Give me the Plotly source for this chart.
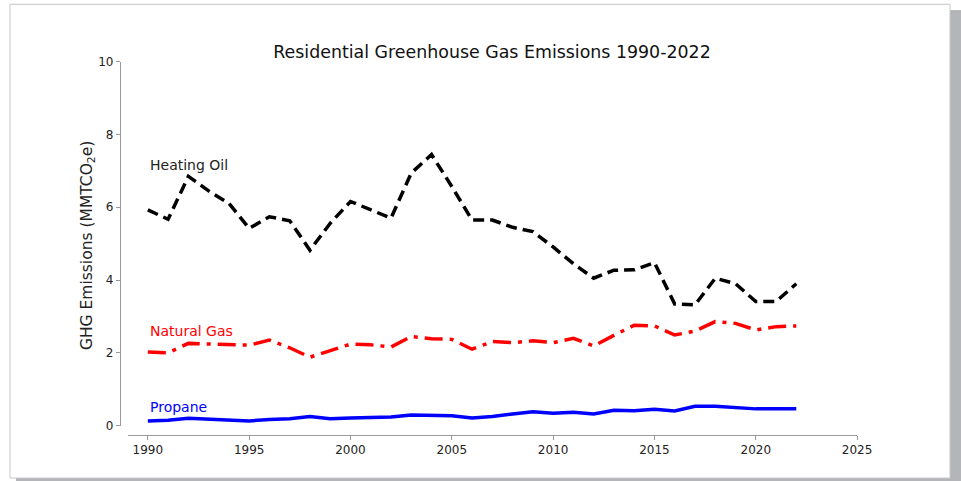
import plotly.graph_objects as go

# Annual residential emissions, MMTCO2e
years = list(range(1990, 2023))

heating_oil = [5.93, 5.67, 6.85, 6.45, 6.11, 5.42, 5.74, 5.63, 4.82, 5.56,
               6.16, 5.93, 5.70, 6.94, 7.45, 6.57, 5.65, 5.65, 5.45, 5.33,
               4.91, 4.45, 4.05, 4.27, 4.28, 4.48, 3.34, 3.32, 4.05, 3.90,
               3.41, 3.41, 3.90]

natural_gas = [2.02, 2.00, 2.26, 2.25, 2.24, 2.21, 2.35, 2.14, 1.88, 2.07,
               2.24, 2.22, 2.16, 2.45, 2.39, 2.37, 2.10, 2.31, 2.28, 2.33,
               2.28, 2.40, 2.19, 2.48, 2.76, 2.74, 2.49, 2.60, 2.86, 2.81,
               2.63, 2.72, 2.74]

propane = [0.13, 0.15, 0.20, 0.18, 0.15, 0.13, 0.17, 0.19, 0.25, 0.19,
           0.21, 0.23, 0.24, 0.29, 0.29, 0.27, 0.21, 0.25, 0.32, 0.38,
           0.34, 0.37, 0.32, 0.42, 0.41, 0.45, 0.40, 0.53, 0.53, 0.50,
           0.46, 0.46, 0.46]

x_ticks = [1990, 1995, 2000, 2005, 2010, 2015, 2020, 2025]
y_ticks = [0, 2, 4, 6, 8, 10]

series = [
    ("Heating Oil", heating_oil, "#000000", "11px,6px", 7.15),
    ("Natural Gas", natural_gas, "#ff0000", "18px,7px,4px,7px", 2.6),
    ("Propane", propane, "#0000ff", "solid", 0.5),
]

W, H = 961, 481
FONT = "DejaVu Sans"
SHADOW = "#b3b5b8"

# Pixel -> paper-fraction helpers (plot area spans 947 x 463 px, top at 8.7 px)
PW, PTOP, PBOT = 947.0, 8.7, 472.0


def px(x):
    return x / PW


def py(y):
    return (PBOT - y) / (PBOT - PTOP)


def rect(x0, x1, y0, y1, fill, layer="below", line=None):
    fig.add_shape(type="rect", xref="paper", yref="paper", layer=layer,
                  x0=px(x0), x1=px(x1), y0=py(y1), y1=py(y0),
                  fillcolor=fill, line=line or dict(width=0))


fig = go.Figure()
for name, vals, color, dash, label_y in series:
    fig.add_trace(go.Scatter(
        x=years, y=vals, mode="lines", name=name,
        line=dict(color=color, width=3.5, dash=dash),
        showlegend=False,
    ))
    fig.add_annotation(
        x=years[0], y=label_y, xref="x", yref="y",
        text=name, showarrow=False, xanchor="left", yanchor="middle",
        font=dict(family=FONT, size=14, color=color if color != "#000000" else "#222222"),
    )

# Y-axis label
fig.add_annotation(
    x=px(88), y=py(245), xref="paper", yref="paper",
    text="GHG Emissions (MMTCO<sub>2</sub>e)", textangle=-90,
    showarrow=False, xanchor="center", yanchor="middle",
    font=dict(family=FONT, size=15.5, color="#222222"),
)

# White page edges around the card
rect(-30, 10, -30, 520, "#ffffff")      # left strip
rect(-30, 1000, -30, 6, "#ffffff")      # top strip
rect(-30, 16, 476, 520, "#ffffff")      # below the card, left of the shadow
rect(951, 1000, -30, 12, "#ffffff")     # right of the card, above the shadow

# Card
rect(10, 951, 6, 476, "#ffffff", line=dict(color="#c8c8c8", width=1))

# Drop shadow bands along the right and bottom edges of the card
rect(952, 1000, 12, 520, SHADOW, layer="above")
rect(16, 1000, 477, 520, SHADOW, layer="above")

axis_common = dict(
    showgrid=False, zeroline=False, showline=True,
    linecolor="#9a9a9a", linewidth=1,
    ticks="outside", ticklen=4, tickwidth=1, tickcolor="#9a9a9a",
    tickfont=dict(family=FONT, size=12, color="#222222"),
)

fig.update_layout(
    width=W, height=H,
    margin=dict(l=0, r=0, t=0, b=0),
    paper_bgcolor=SHADOW,
    plot_bgcolor="rgba(0,0,0,0)",
    title=dict(
        text="Residential Greenhouse Gas Emissions 1990-2022",
        x=492 / W, y=1 - 52 / H, xanchor="center", yanchor="middle",
        font=dict(family=FONT, size=17.4, color="#111111"),
    ),
    xaxis=dict(
        range=[1989.0, 2025], domain=[px(127.7), px(858)],
        anchor="free", position=py(433),
        tickmode="array", tickvals=x_ticks,
        **axis_common,
    ),
    yaxis=dict(
        range=[0, 10], domain=[py(424), py(63)],
        anchor="free", position=px(120),
        tickmode="array", tickvals=y_ticks,
        **axis_common,
    ),
)

fig.write_html("out.html")
